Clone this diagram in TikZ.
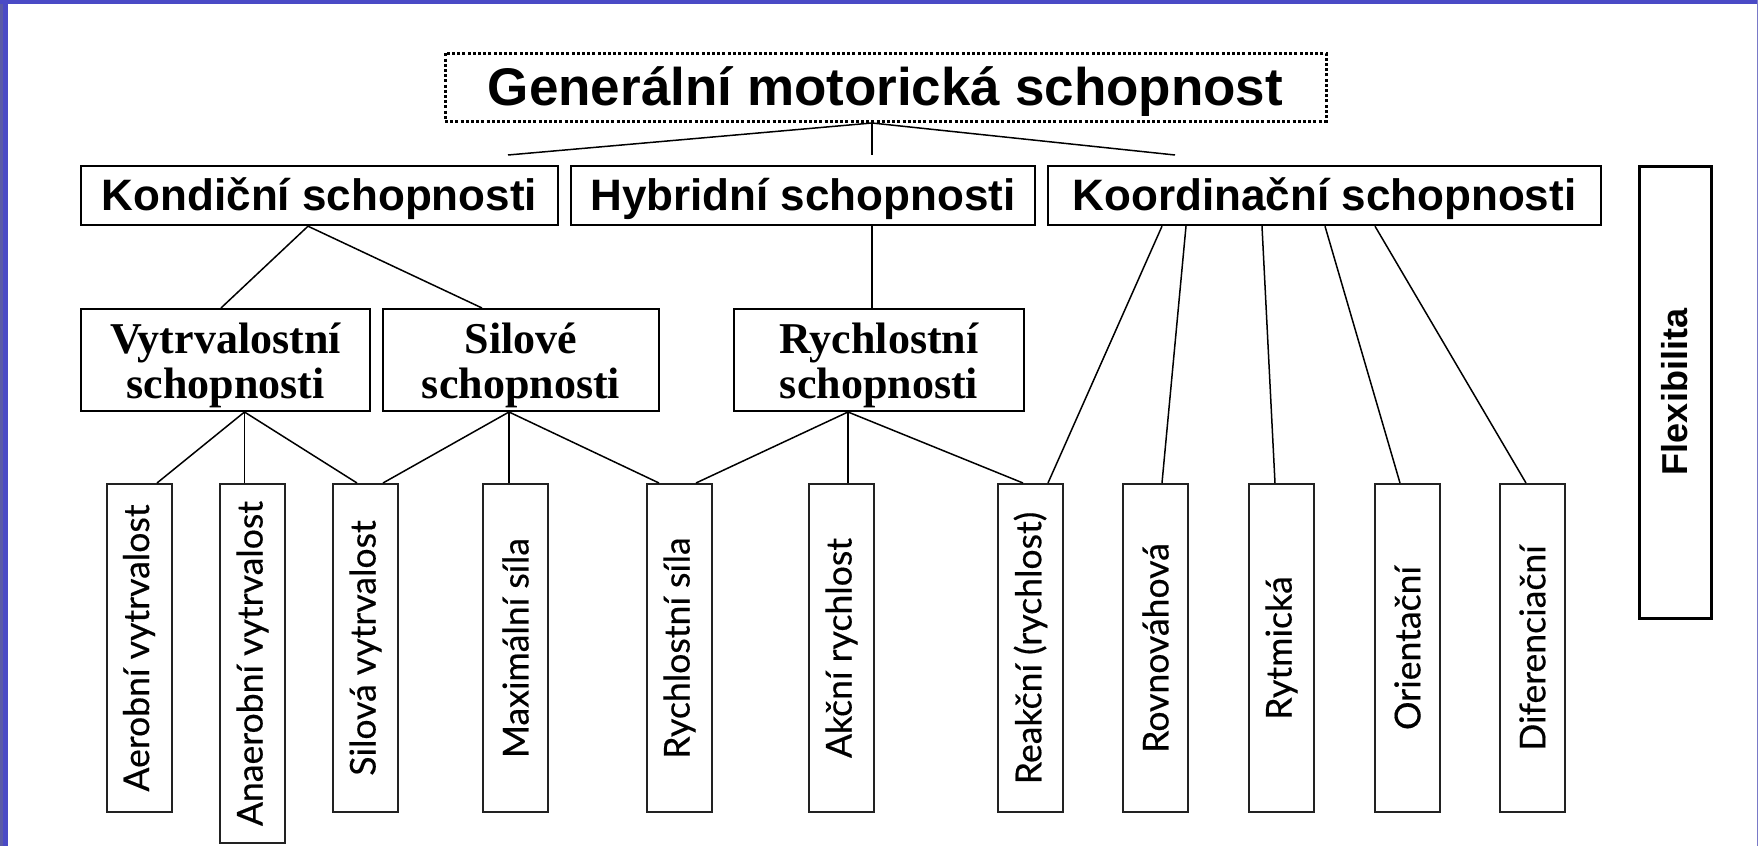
\documentclass[tikz,border=0pt]{standalone}
\usepackage{fontspec}
\setmainfont{Liberation Serif}
\newfontfamily\hdfont{Liberation Sans}
\newfontfamily\leaffont{Lato}[FakeBold=0.4]
\definecolor{frameblue}{HTML}{4A4AC6}
\definecolor{framegray}{HTML}{5A5AA6}
\definecolor{frameright}{HTML}{7A7AC8}
\definecolor{boxline}{HTML}{222222}
\tikzset{
  conn/.style={line width=0.75pt, black},
  titlebox/.style={draw=black, line width=1.5pt, dash pattern=on 1.5pt off 1.1pt, inner sep=0pt,
    minimum width=440.5pt, minimum height=34pt},
  titletext/.style={inner sep=0pt, font=\hdfont\bfseries\fontsize{26.5pt}{30pt}\selectfont},
  topbox/.style={draw=black, line width=1.2pt, inner sep=0pt, minimum height=29.5pt},
  toptext/.style={inner sep=0pt, font=\hdfont\bfseries\fontsize{22pt}{26pt}\selectfont},
  midbox/.style={draw=black, line width=1pt, inner sep=0pt, minimum height=51pt},
  midtext/.style={inner sep=0pt, align=center, font=\bfseries\fontsize{22pt}{22.5pt}\selectfont},
  leafbox/.style={draw=boxline, line width=1pt, inner sep=0pt, minimum width=32.5pt,
    font=\leaffont\fontsize{17.8pt}{20pt}\selectfont},
}
\begin{document}
\begin{tikzpicture}[x=0.5pt, y=-0.5pt]
\useasboundingbox (0,0) rectangle (1758,846);
% frame
\fill[framegray] (0,0) rectangle (3,846);
\fill[frameblue] (3,0) rectangle (7.5,846);
\fill[frameblue] (0,0) rectangle (1758,3.5);
\fill[frameright] (1756.5,0) rectangle (1758,846);

% title
\node[titlebox] (gen) at (885.5,87) {};
\node[titletext] (gen-t) at ([yshift=-2.5pt]gen.center) {Generální motorická schopnost};

% level 2
\node[topbox, minimum width=238.5pt] (kon) at (319.5,195.5) {};
\node[toptext] (kon-t) at ([yshift=-1.7pt]kon.center) {Kondiční schopnosti};
\node[topbox, minimum width=232pt] (hyb) at (803,195.5) {};
\node[toptext] (hyb-t) at ([yshift=-1.7pt]hyb.center) {Hybridní schopnosti};
\node[topbox, minimum width=276.5pt] (koo) at (1324.5,195.5) {};
\node[toptext] (koo-t) at ([yshift=-1.7pt]koo.center) {Koordinační schopnosti};
\node[draw=black, line width=1.5pt, inner sep=0pt, minimum width=36pt, minimum height=226pt,
  font=\hdfont\bfseries\fontsize{18pt}{20pt}\selectfont] (flex) at (1675,392) {\rotatebox{90}{Flexibilita}};

% level 3
\node[midbox, minimum width=144.5pt] (vyt) at (225.5,360) {};
\node[midtext] (vyt-t) at ([yshift=-2.8pt]vyt.center) {Vytrvalostní\\schopnosti};
\node[midbox, minimum width=138pt] (sil) at (521,360) {};
\node[midtext] (sil-t) at ([yshift=-2.8pt]sil.center) {Silové\\schopnosti};
\node[midbox, minimum width=145pt] (ryc) at (879,360) {};
\node[midtext] (ryc-t) at ([yshift=-2.8pt]ryc.center) {Rychlostní\\schopnosti};

% leaves
\node[leafbox, minimum height=164pt] (aer) at (139,648) {\rotatebox{90}{Aerobní vytrvalost}};
\node[leafbox, minimum height=179.5pt] (ana) at (252.5,663.5) {\rotatebox{90}{Anaerobní vytrvalost}};
\node[leafbox, minimum height=164pt] (silv) at (365.5,648) {\rotatebox{90}{Silová vytrvalost}};
\node[leafbox, minimum height=164pt] (max) at (515.5,648) {\rotatebox{90}{Maximální síla}};
\node[leafbox, minimum height=164pt] (rs) at (679.5,648) {\rotatebox{90}{Rychlostní síla}};
\node[leafbox, minimum height=164pt] (akc) at (841.5,648) {\rotatebox{90}{Akční rychlost}};
\node[leafbox, minimum height=164pt] (rea) at (1030.5,648) {\rotatebox{90}{Reakční (rychlost)}};
\node[leafbox, minimum height=164pt] (rov) at (1155.5,648) {\rotatebox{90}{Rovnováhová}};
\node[leafbox, minimum height=164pt] (ryt) at (1281.5,648) {\rotatebox{90}{Rytmická}};
\node[leafbox, minimum height=164pt] (ori) at (1407.5,648) {\rotatebox{90}{Orientační}};
\node[leafbox, minimum height=164pt] (dif) at (1532.5,648) {\rotatebox{90}{Diferenciační}};

% title connectors
\coordinate (tj) at (872,123);
\coordinate (t1) at (508,155);
\coordinate (t2) at (872,155);
\coordinate (t3) at (1175,155);
\draw[conn] (gen.south -| tj) -- (tj);
\draw[conn] (tj) -- (t1);
\draw[conn] (tj) -- (t2);
\draw[conn] (tj) -- (t3);

% level 2 -> level 3
\draw[conn] (kon.south -| 308,0) -- (vyt.north -| 221,0);
\draw[conn] (kon.south -| 308,0) -- (sil.north -| 482,0);
\draw[conn] (hyb.south -| 872,0) -- (ryc.north -| 872,0);
\draw[conn] (koo.south -| 1162,0) -- (rea.north -| 1048,0);
\draw[conn] (koo.south -| 1186,0) -- (rov.north -| 1162,0);
\draw[conn] (koo.south -| 1262,0) -- (ryt.north -| 1275,0);
\draw[conn] (koo.south -| 1325,0) -- (ori.north -| 1400,0);
\draw[conn] (koo.south -| 1375,0) -- (dif.north -| 1526,0);

% level 3 -> leaves
\draw[conn] (vyt.south -| 244.5,0) -- (aer.north -| 157,0);
\draw[conn] (vyt.south -| 244.5,0) -- (ana.north -| 244.5,0);
\draw[conn] (vyt.south -| 244.5,0) -- (silv.north -| 357,0);
\draw[conn] (sil.south -| 509,0) -- (silv.north -| 383,0);
\draw[conn] (sil.south -| 509,0) -- (max.north -| 509,0);
\draw[conn] (sil.south -| 509,0) -- (rs.north -| 659,0);
\draw[conn] (ryc.south -| 848,0) -- (rs.north -| 696,0);
\draw[conn] (ryc.south -| 848,0) -- (akc.north -| 848,0);
\draw[conn] (ryc.south -| 848,0) -- (rea.north -| 1023,0);
\end{tikzpicture}
\end{document}
